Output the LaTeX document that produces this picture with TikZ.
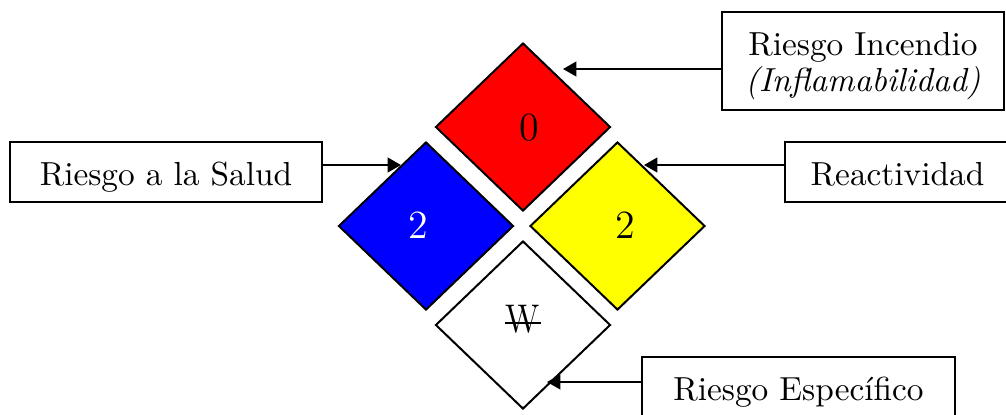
\documentclass[tikz,border=0pt]{standalone}
\usepackage{fontspec}
\usepackage{graphicx}
\usetikzlibrary{shapes.geometric,arrows.meta}
\definecolor{nfpared}{RGB}{255,0,0}
\definecolor{nfpablue}{RGB}{0,0,255}
\definecolor{nfpayellow}{RGB}{255,255,0}
\begin{document}
\begin{tikzpicture}[x=0.3pt,y=-0.3pt, line width=0.6pt,
  rhomb/.style={shape=diamond, draw=black, line width=0.6pt, minimum width=52.5pt, minimum height=50.4pt, inner sep=0pt},
  lbl/.style={draw=black, fill=white, line width=0.6pt, inner sep=0pt, font=\normalsize},
  one/.style={lbl, minimum height=18pt, text height=7.8pt, text depth=0pt},
  num/.style={font=\large, inner sep=0pt},
  pointer/.style={-{Triangle[length=4pt,width=4.4pt]}, line width=0.6pt}]
\useasboundingbox (0,0) rectangle (1006,414);
% diamonds
\node[rhomb, fill=nfpared] (fire) at (523,127) {};
\node[rhomb, fill=nfpablue] (health) at (426,226) {};
\node[rhomb, fill=nfpayellow] (react) at (617.5,226) {};
\node[rhomb, fill=white] (spec) at (523,325) {};
% values
\node[num] (n0) at (529.5,127.5) {0};
\node[num, text=white] (n2a) at (418,225) {2};
\node[num] (n2b) at (625.5,225) {2};
\node[num] (wsym) at (523,319.3) {\ooalign{\scalebox{0.85}[1]{W}\cr\hidewidth\rule[2.8pt]{11pt}{0.6pt}\hidewidth\cr}};
% labels
\node[one, minimum width=93.6pt] (salud) at (166,172) {Riesgo a la Salud};
\node[lbl, minimum width=84.6pt, minimum height=29.4pt, align=center] (incendio) at (863,61) {\rule{0pt}{9.9pt}Riesgo Incendio\\[-1pt]\textit{(Inflamabilidad)}};
\node[one, minimum width=67.5pt] (reac) at (897.5,172) {Reactividad};
\node[one, minimum width=93.9pt] (espec) at (798.5,387) {Riesgo Específico};
% arrows
\coordinate (tS) at (401,165);
\coordinate (tI) at (563,69);
\coordinate (tR) at (644,165);
\coordinate (tE) at (547,382);
\draw[pointer] (salud.east |- tS) -- (tS);
\draw[pointer] (incendio.west |- tI) -- (tI);
\draw[pointer] (reac.west |- tR) -- (tR);
\draw[pointer] (espec.west |- tE) -- (tE);
\end{tikzpicture}
\end{document}
